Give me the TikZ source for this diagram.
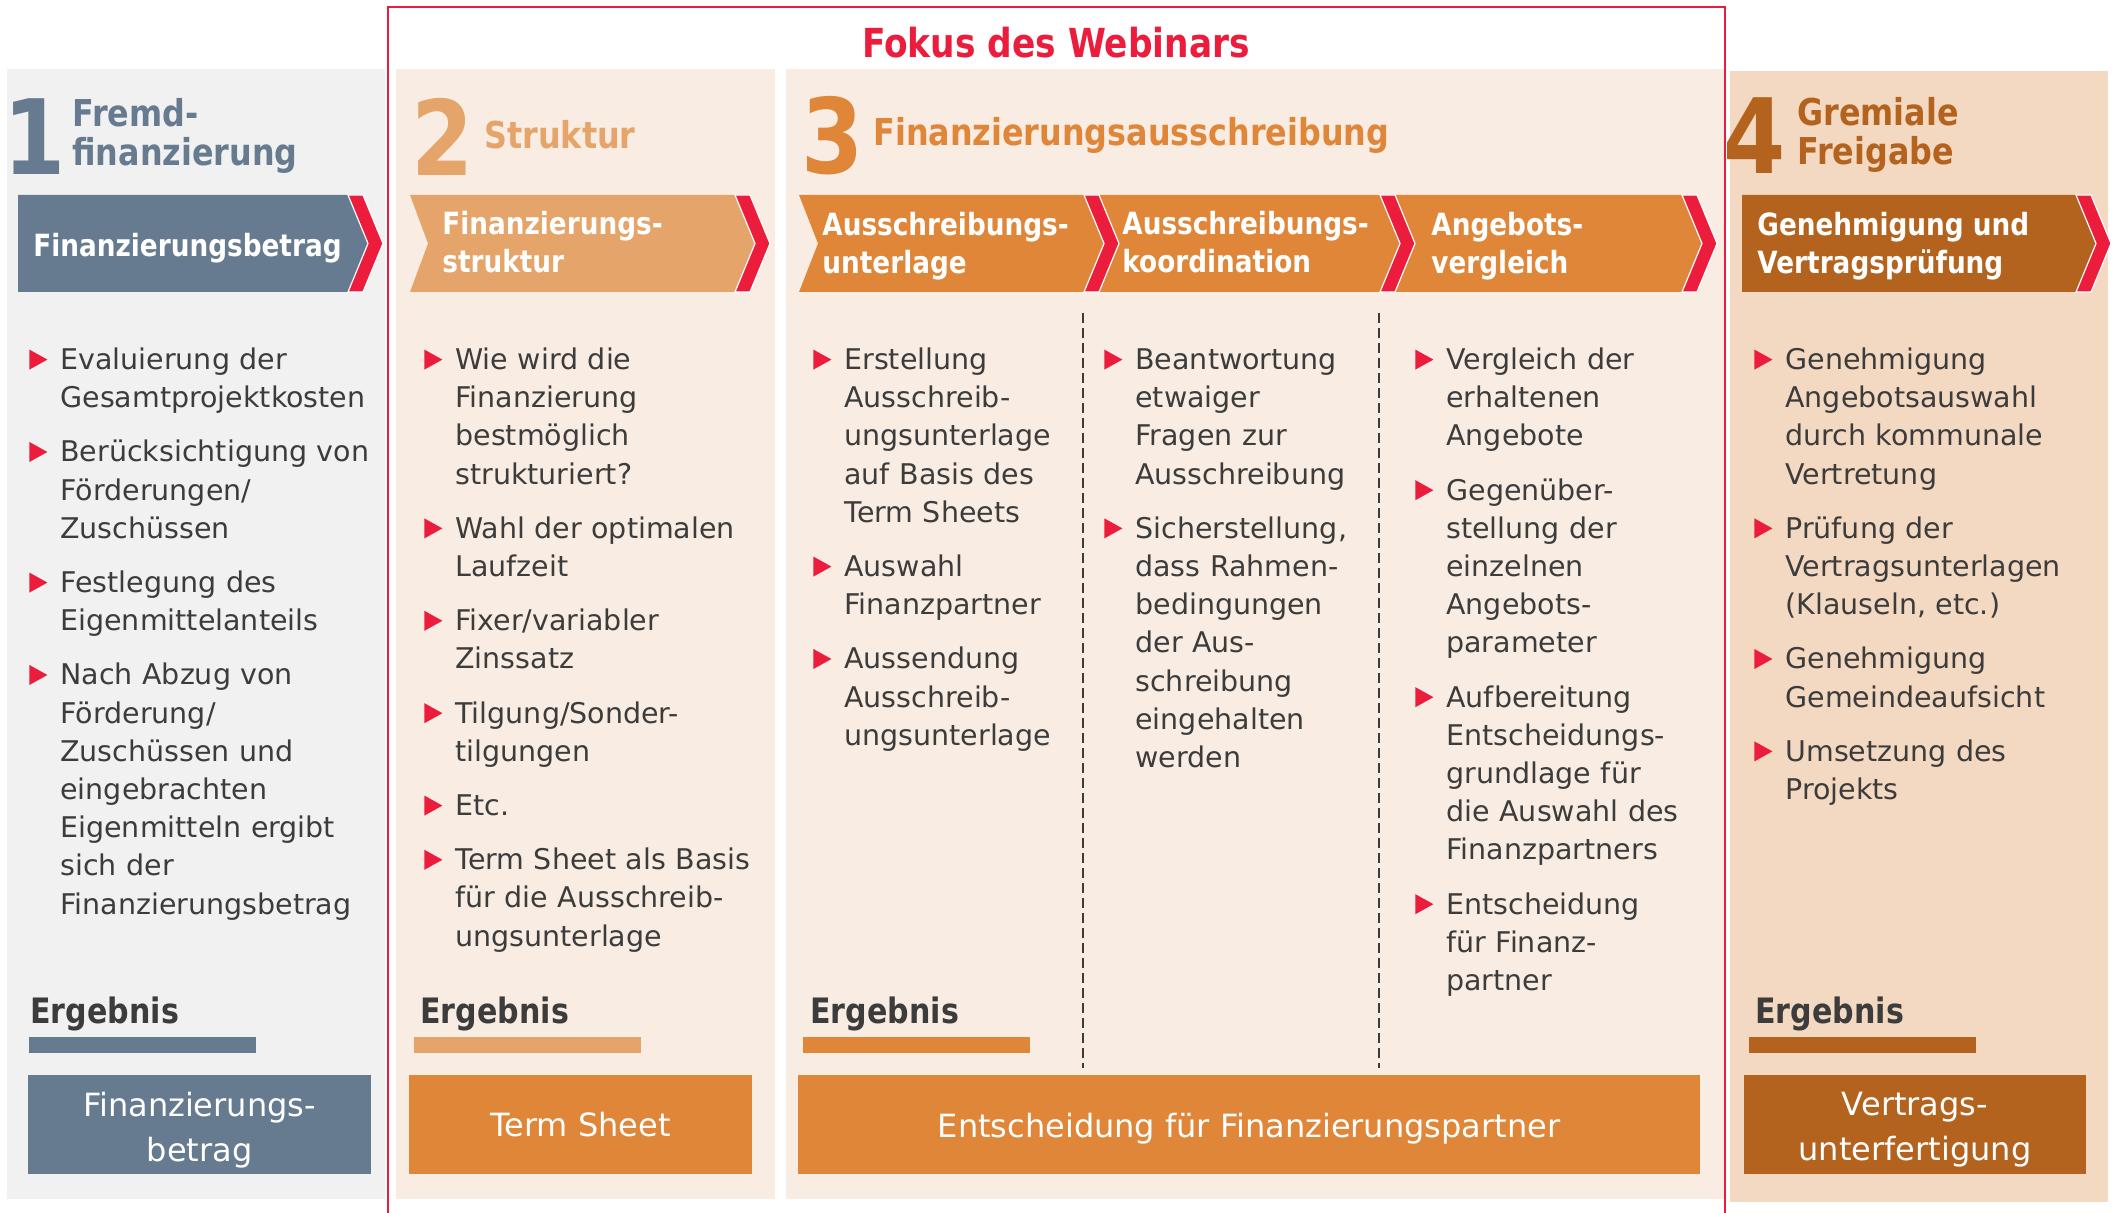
\documentclass[tikz,border=0pt]{standalone}
\usepackage{fontspec}
\setmainfont{DejaVu Sans}
\newfontfamily\condfont[FakeStretch=0.86]{DejaVu Sans}
\definecolor{bggray}{HTML}{F1F1F1}
\definecolor{bgpeach}{HTML}{F9EDE3}
\definecolor{bgsand}{HTML}{F3D9C1}
\definecolor{slate}{HTML}{667B8F}
\definecolor{fglorange}{HTML}{E5A469}
\definecolor{fgorange}{HTML}{DF8639}
\definecolor{fgbrown}{HTML}{B4631F}
\definecolor{fgred}{HTML}{EC1C3D}
\definecolor{txtgray}{HTML}{3C3C3C}
\newcommand{\bul}{\rule{0pt}{13.5pt}\tikz[baseline=0pt,x=1pt,y=1pt]\fill[fgred] (0,0) -- (0,10) -- (9,5) -- cycle;}
\newenvironment{points}{\begin{list}{\bul}{\setlength{\leftmargin}{15.5pt}\setlength{\labelwidth}{9pt}\setlength{\labelsep}{6.5pt}\setlength{\itemsep}{8pt}\setlength{\parsep}{0pt}\setlength{\topsep}{0pt}\setlength{\partopsep}{0pt}}}{\end{list}}

\begin{document}
\begin{tikzpicture}[x=0.5pt, y=-0.5pt, inner sep=0pt,
  body/.style={anchor=north west, text width=200pt, align=left, text=txtgray, font=\fontsize{14.25pt}{19.1pt}\selectfont},
  bartext/.style={anchor=west, align=left, text=white, font=\condfont\bfseries\fontsize{15.3pt}{19pt}\selectfont},
  head/.style={align=left, font=\condfont\bfseries\fontsize{18.5pt}{19.5pt}\selectfont},
  digit/.style={anchor=base, font=\condfont\bfseries\fontsize{52pt}{52pt}\selectfont},
  result/.style={text=white, align=center, font=\fontsize{16pt}{22.5pt}\selectfont},
  ergebnis/.style={anchor=base west, text=txtgray, font=\condfont\bfseries\fontsize{17.5pt}{20pt}\selectfont},
  chevron/.style={fill=fgred, draw=white, line width=0.6pt}]
\fill[white] (0,0) rectangle (2118,1213);
\useasboundingbox (0,0) rectangle (2118,1213);

\fill[bggray] (7,69) rectangle (385,1199);
\fill[bgpeach] (396,69) rectangle (775,1199);
\fill[bgpeach] (786,69) rectangle (1724,1199);
\fill[bgsand] (1730,71) rectangle (2108,1202);
\draw[fgred, line width=1.2pt] (388,1213) -- (388,7) -- (1725,7) -- (1725,1213);
\node[anchor=base, text=fgred, font=\condfont\bfseries\fontsize{20pt}{24pt}\selectfont] (title) at (1056,58) {Fokus des Webinars};

\node[digit, text=slate] (n1) at (35,175) {1};
\node[digit, text=fglorange] (n2) at (443,176) {2};
\node[digit, text=fgorange] (n3) at (833,174) {3};
\node[digit, text=fgbrown] (n4) at (1755,174) {4};
\node[head, anchor=west, text=slate] (h1) at (72,136) {Fremd-\\finanzierung};
\node[head, anchor=base west, text=fglorange] (h2) at (484,149) {Struktur};
\node[head, anchor=base west, text=fgorange] (h3) at (873,146) {Finanzierungsausschreibung};
\node[head, anchor=west, text=fgbrown] (h4) at (1797,135) {Gremiale\\Freigabe};

\fill[slate] (18,195) -- (348,195) -- (368,243.5) -- (348,292) -- (18,292) -- cycle;
\fill[fglorange] (410,195) -- (735,195) -- (755,243.5) -- (735,292) -- (410,292) -- (428,243.5) -- cycle;
\foreach \xl/\xr in {799/1084,1099/1380,1395/1682}
{
\fill[fgorange] (\xl,195) -- (\xr,195) -- (\xr+20,243.5) -- (\xr,292) -- (\xl,292) -- (\xl+19,243.5) -- cycle;
}
\fill[fgbrown] (1742,195) -- (2076,195) -- (2096,243.5) -- (2076,292) -- (1742,292) -- cycle;
\foreach \xr in {348,735,1084,1380,1682,2076}
{
\filldraw[chevron] (\xr,195) -- (\xr+15,195) -- (\xr+35,243.5) -- (\xr+15,292) -- (\xr,292) -- (\xr+20,243.5) -- cycle;
}

\node[bartext, anchor=base west] (b1) at (33,257) {Finanzierungsbetrag};
\node[bartext] (b2) at (442,242.3) {Finanzierungs-\\struktur};
\node[bartext] (b3a) at (822,246) {Ausschreibungs-\\unterlage};
\node[bartext] (b3b) at (1122,242.3) {Ausschreibungs-\\koordination};
\node[bartext] (b3c) at (1431,246) {Angebots-\\vergleich};
\node[bartext] (b4) at (1757,246) {Genehmigung und\\Vertragsprüfung};

\foreach \x in {1083,1379}
{
\draw[txtgray, line width=1pt, dash pattern=on 5pt off 2.5pt] (\x,313) -- (\x,1068);
}

\node[body] (c1) at (29,331) {\begin{points}
\item Evaluierung der\\Gesamtprojektkosten
\item Berücksichtigung von\\Förderungen/\\Zuschüssen
\item Festlegung des\\Eigenmittelanteils
\item Nach Abzug von\\Förderung/\\Zuschüssen und\\eingebrachten\\Eigenmitteln ergibt\\sich der\\Finanzierungsbetrag
\end{points}};
\node[body] (c2) at (424,331) {\begin{points}
\item Wie wird die\\Finanzierung\\bestmöglich\\strukturiert?
\item Wahl der optimalen\\Laufzeit
\item Fixer/variabler\\Zinssatz
\item Tilgung/Sonder-\\tilgungen
\item Etc.
\item Term Sheet als Basis\\für die Ausschreib-\\ungsunterlage
\end{points}};
\node[body] (c3a) at (813,331) {\begin{points}
\item Erstellung\\Ausschreib-\\ungsunterlage\\auf Basis des\\Term Sheets
\item Auswahl\\Finanzpartner
\item Aussendung\\Ausschreib-\\ungsunterlage
\end{points}};
\node[body] (c3b) at (1104,331) {\begin{points}
\item Beantwortung\\etwaiger\\Fragen zur\\Ausschreibung
\item Sicherstellung,\\dass Rahmen-\\bedingungen\\der Aus-\\schreibung\\eingehalten\\werden
\end{points}};
\node[body] (c3c) at (1415,331) {\begin{points}
\item Vergleich der\\erhaltenen\\Angebote
\item Gegenüber-\\stellung der\\einzelnen\\Angebots-\\parameter
\item Aufbereitung\\Entscheidungs-\\grundlage für\\die Auswahl des\\Finanzpartners
\item Entscheidung\\für Finanz-\\partner
\end{points}};
\node[body] (c4) at (1754,331) {\begin{points}
\item Genehmigung\\Angebotsauswahl\\durch kommunale\\Vertretung
\item Prüfung der\\Vertragsunterlagen\\(Klauseln, etc.)
\item Genehmigung\\Gemeindeaufsicht
\item Umsetzung des\\Projekts
\end{points}};

\foreach \xt/\xb/\c/\i in {30/29/slate/1,420/414/fglorange/2,810/803/fgorange/3,1755/1749/fgbrown/4}
{
\node[ergebnis] (e\i) at (\xt,1023) {Ergebnis};
\fill[\c] (\xb,1037) rectangle (\xb+227,1053);
}

\node[result, fill=slate, minimum width=171.5pt, minimum height=49.5pt] (r1) at (199.5,1124.5) {};
\node[result] (t1) at (199.5,1130) {Finanzierungs-\\betrag};
\node[result, fill=fgorange, minimum width=171.5pt, minimum height=49.5pt] (r2) at (580.5,1124.5) {Term Sheet};
\node[result, fill=fgorange, minimum width=451pt, minimum height=49.5pt] (r3) at (1249,1124.5) {};
\node[result] (t3) at (1249,1129) {Entscheidung für Finanzierungspartner};
\node[result, fill=fgbrown, minimum width=171pt, minimum height=49.5pt] (r4) at (1915,1124.5) {};
\node[result] (t4) at (1915,1130) {Vertrags-\\unterfertigung};
\end{tikzpicture}
\end{document}
